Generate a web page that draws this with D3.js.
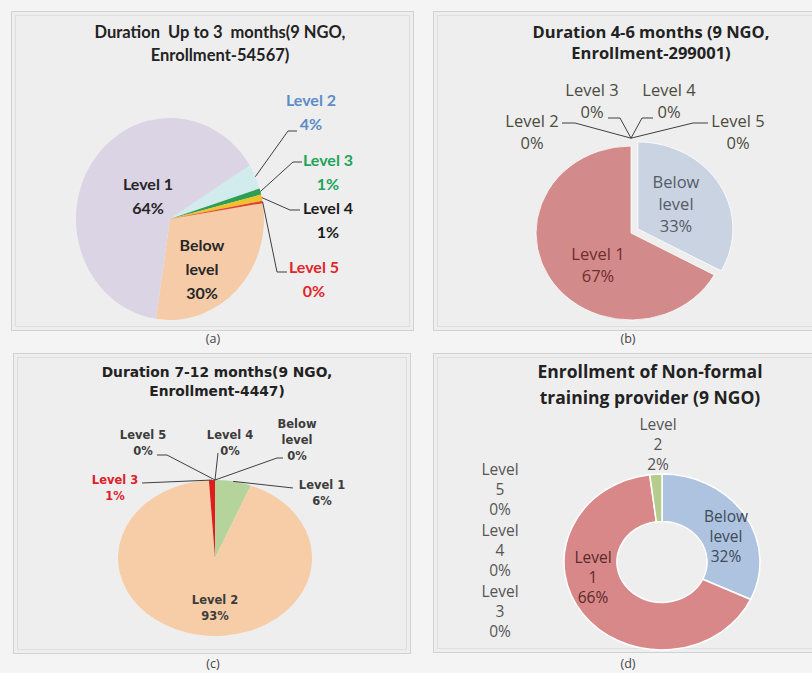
<!DOCTYPE html>
<html>
<head>
<meta charset="utf-8">
<script src="https://cdn.jsdelivr.net/npm/d3@7/dist/d3.min.js"></script>
<style>
  html, body { margin: 0; padding: 0; background: #f4f4f4; }
  svg { display: block; }
  text { white-space: pre; }
</style>
</head>
<body>
<svg id="chart" width="812" height="673"></svg>
<script>
// Skill levels of trainees, shared by all four charts (in drawing order, clockwise)
const categories = ["Below level", "Level 1", "Level 2", "Level 3", "Level 4", "Level 5"];

// Share of enrolment per level (percent)
const shareUpTo3 = [30, 64, 4, 1, 1, 0.4];
const share4to6  = [33, 67, 0, 0, 0, 0];
const share7to12 = [0, 6, 93, 1, 0, 0];
const shareTotal = [32, 66, 2, 0, 0, 0];

const titleUpTo3 = ["Duration  Up to 3  months(9 NGO,", "Enrollment-54567)"];
const title4to6  = ["Duration 4-6 months (9 NGO,", "Enrollment-299001)"];
const title7to12 = ["Duration 7-12 months(9 NGO,", "Enrollment-4447)"];
const titleTotal = ["Enrollment of Non-formal", "training provider (9 NGO)"];

const captions = ["(a)", "(b)", "(c)", "(d)"];

const svg = d3.select("#chart");

// ---------- panel frames ----------
function frame(x, y, w, h) {
  svg.append("rect").attr("x", x + 0.5).attr("y", y + 0.5).attr("width", w).attr("height", h)
    .attr("fill", "#eeeeee").attr("stroke", "#d2d2d2").attr("stroke-width", 1);
  svg.append("rect").attr("x", x + 4.5).attr("y", y + 4.5).attr("width", w - 8).attr("height", h - 8)
    .attr("fill", "none").attr("stroke", "#dedede").attr("stroke-width", 1);
}
frame(11, 11, 402, 319);
frame(433, 11, 390, 319);
frame(13, 353, 397, 300);
frame(433, 353, 390, 299);

const captionPos = [[213, 343], [628, 343], [213, 668], [628, 668]];
svg.selectAll("text.caption").data(captions).join("text")
  .attr("class", "caption")
  .attr("x", (d, i) => captionPos[i][0]).attr("y", (d, i) => captionPos[i][1])
  .attr("text-anchor", "middle")
  .attr("font-family", "Open Sans, sans-serif").attr("font-size", 12.5)
  .attr("fill", "#444").text(d => d);

// ---------- generic pie / donut ----------
function fmtPct(values) {
  const total = d3.sum(values);
  return values.map(v => Math.round(v / total * 100) + "%");
}

function drawPie(cfg) {
  const g = svg.append("g");
  // title
  g.selectAll("text.title").data(cfg.title).join("text")
    .attr("x", cfg.titleX).attr("y", (d, i) => cfg.titleY + i * cfg.titleGap)
    .attr("text-anchor", "middle")
    .attr("font-family", cfg.titleFont).attr("font-weight", "bold")
    .attr("font-size", cfg.titleSize).attr("fill", "#222")
    .text(d => d);

  const data = categories.map((c, i) => ({ name: c, value: cfg.values[i], color: cfg.colors[i] }));
  const pie = d3.pie().sort(null).value(d => d.value)
    .startAngle(cfg.start).endAngle(cfg.start + 2 * Math.PI);
  const arcs = pie(data);
  const arc = d3.arc().innerRadius(cfg.rx * (cfg.inner || 0)).outerRadius(cfg.rx);
  const sy = cfg.ry / cfg.rx;

  const pg = g.append("g").attr("transform", `translate(${cfg.cx},${cfg.cy}) scale(1,${sy})`);
  pg.selectAll("path").data(arcs.filter(a => a.data.value > 0)).join("path")
    .attr("d", arc)
    .attr("transform", a => {
      const off = (cfg.explode && cfg.explode[a.index]) || 0;
      const m = (a.startAngle + a.endAngle) / 2;
      return `translate(${Math.sin(m) * off},${-Math.cos(m) * off / sy})`;
    })
    .attr("fill", a => a.data.color)
    .attr("stroke", cfg.stroke || "none")
    .attr("stroke-width", cfg.strokeWidth || 0)
    .attr("vector-effect", "non-scaling-stroke");

  // labels and leader lines
  const pct = fmtPct(cfg.values);
  arcs.forEach((a, i) => {
    const L = cfg.labels[i];
    if (!L) return;
    const lines = cfg.split(a.data.name).concat([pct[i]]);
    if (L.leader) {
      const m = (a.startAngle + a.endAngle) / 2;
      const k = L.k || 1;
      const p0 = [cfg.cx + Math.sin(m) * cfg.rx * k, cfg.cy - Math.cos(m) * cfg.ry * k];
      g.append("path")
        .attr("d", d3.line()([p0].concat(L.leader)))
        .attr("fill", "none").attr("stroke", "#3f3f3f").attr("stroke-width", 1);
    }
    const t = g.append("text")
      .attr("text-anchor", "middle")
      .attr("font-family", cfg.labelFont)
      .attr("font-weight", cfg.labelWeight)
      .attr("font-size", cfg.labelSize)
      .attr("fill", L.color || cfg.labelColor);
    lines.forEach((s, j) => {
      t.append("tspan").attr("x", L.x).attr("y", L.y + j * cfg.lineGap).text(s);
    });
  });
}

const splitBelow = n => n === "Below level" ? ["Below", "level"] : [n];
const splitWords = n => n.split(" ");

// (a) up to 3 months
drawPie({
  values: shareUpTo3,
  colors: ["#f6cca8", "#dbd4e5", "#d2ecee", "#2f9e55", "#efc12a", "#e5402c"],
  title: titleUpTo3, titleX: 220, titleY: 38, titleGap: 23,
  titleFont: "Lato, sans-serif", titleSize: 16.5,
  cx: 170, cy: 219, rx: 94, ry: 101, start: 81 * Math.PI / 180,
  split: splitBelow,
  labelFont: "Lato, sans-serif", labelWeight: "bold", labelSize: 16, labelColor: "#262626", lineGap: 24,
  labels: [
    { x: 202, y: 251 },
    { x: 148, y: 190 },
    { x: 311, y: 106, color: "#5b8cc8", leader: [[288, 131], [297, 131]] },
    { x: 328, y: 166, color: "#1fa45a", leader: [[293, 162], [302, 162]] },
    { x: 328, y: 214, color: "#1c1c1c", leader: [[290, 210], [300, 210]] },
    { x: 314, y: 273, color: "#e0262a", leader: [[277, 272], [287, 272]] }
  ]
});

// (b) 4-6 months
drawPie({
  values: share4to6,
  colors: ["#c9d3e2", "#d38a8a", "#b5cd8f", "#8e7bb0", "#5bb3c8", "#f2a35e"],
  title: title4to6, titleX: 651, titleY: 38, titleGap: 21,
  titleFont: "Open Sans, sans-serif", titleSize: 16.5,
  cx: 631, cy: 233, rx: 95, ry: 87, start: 0,
  explode: [8, 0, 0, 0, 0, 0], stroke: "#ffffff", strokeWidth: 0.8,
  split: splitBelow,
  labelFont: "Open Sans, sans-serif", labelWeight: "normal", labelSize: 16.5, labelColor: "#4b4b3e", lineGap: 22,
  labels: [
    { x: 676, y: 188, color: "#555b66" },
    { x: 598, y: 260, color: "#6e2e2e" },
    { x: 532, y: 127, leader: [[575, 123], [562, 123]], k: 1.09 },
    { x: 592, y: 96, leader: [[620, 118], [608, 118]], k: 1.09 },
    { x: 669, y: 96, leader: [[642, 118], [653, 118]], k: 1.09 },
    { x: 738, y: 127, leader: [[693, 123], [708, 123]], k: 1.09 }
  ]
});

// (c) 7-12 months
drawPie({
  values: share7to12,
  colors: ["#c9d3e2", "#b4d49b", "#f7cda7", "#e01d1d", "#5bb3c8", "#8e7bb0"],
  title: title7to12, titleX: 217, titleY: 377, titleGap: 19,
  titleFont: "DejaVu Sans, sans-serif", titleSize: 13.8,
  cx: 215, cy: 558, rx: 97, ry: 78, start: 0,
  split: splitBelow,
  labelFont: "DejaVu Sans, sans-serif", labelWeight: "bold", labelSize: 11.5, labelColor: "#3c3c3c", lineGap: 16,
  labels: [
    { x: 297, y: 428, leader: [[277, 458], [283, 458]] },
    { x: 322, y: 489, leader: [[293, 488]] },
    { x: 215, y: 604 },
    { x: 115, y: 484, color: "#e0202a", leader: [[142, 483]] },
    { x: 230, y: 439, leader: [[218, 453]] },
    { x: 143, y: 439, leader: [[167, 455], [157, 455]] }
  ]
});

// (d) overall enrolment, donut
drawPie({
  values: shareTotal,
  colors: ["#adc3df", "#d88888", "#b4cd8c", "#8e7bb0", "#5bb3c8", "#f2a35e"],
  title: titleTotal, titleX: 650, titleY: 378, titleGap: 26,
  titleFont: "Open Sans, sans-serif", titleSize: 17.5,
  cx: 662, cy: 562, rx: 98, ry: 88, inner: 0.46, start: 0,
  stroke: "#ffffff", strokeWidth: 1.5,
  split: splitWords,
  labelFont: "Open Sans, sans-serif", labelWeight: "normal", labelSize: 15.5, labelColor: "#555555", lineGap: 20,
  labels: [
    { x: 726, y: 522, color: "#3f4a5a" },
    { x: 593, y: 563, color: "#5a2a2a" },
    { x: 658, y: 430 },
    { x: 500, y: 597 },
    { x: 500, y: 536 },
    { x: 500, y: 475 }
  ]
});
</script>
</body>
</html>
